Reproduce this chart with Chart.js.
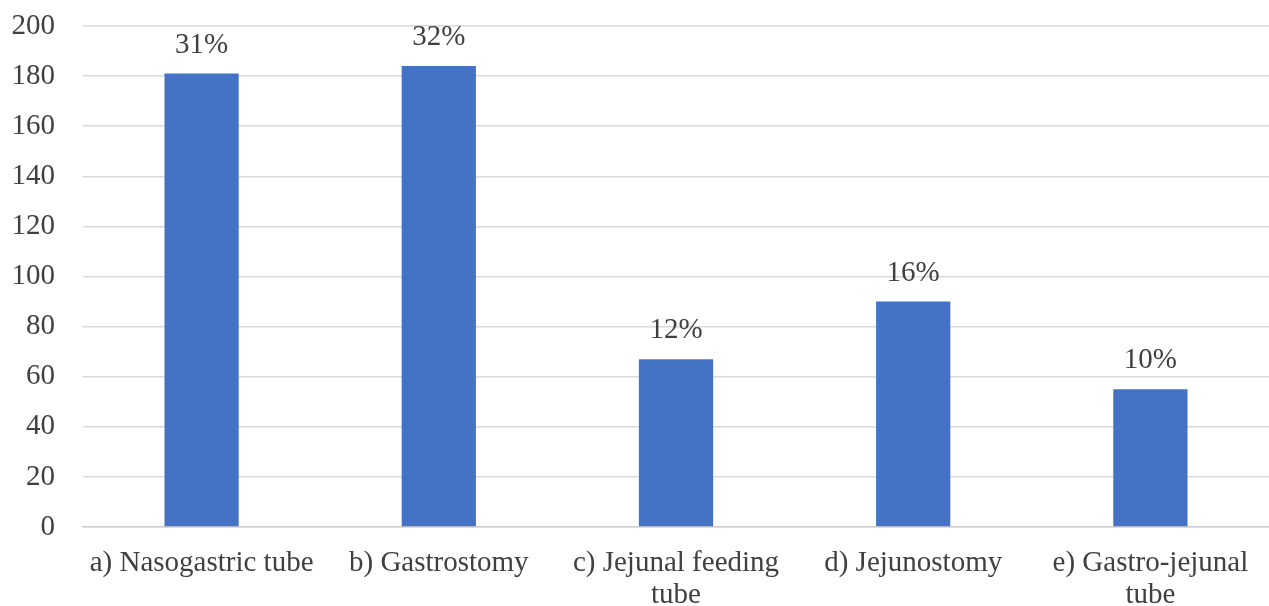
<!DOCTYPE html>
<html>
<head>
<meta charset="utf-8">
<script src="https://cdn.jsdelivr.net/npm/chart.js@4/dist/chart.umd.min.js"></script>
<style>
  html, body { margin: 0; padding: 0; background: #ffffff; overflow: hidden; }
  #wrap { width: 1269px; height: 606px; position: relative; }
</style>
</head>
<body>
<div id="wrap"><canvas id="chart"></canvas></div>
<script>
// Feeding route categories (wrapped onto two lines where long)
const categories = [
  "a) Nasogastric tube",
  "b) Gastrostomy",
  ["c) Jejunal feeding", "tube"],
  "d) Jejunostomy",
  ["e) Gastro-jejunal", "tube"]
];
// Number of patients per route
const counts = [181, 184, 67, 90, 55];
// Y axis range
const yMin = 0, yMax = 200, yStep = 20;

const total = counts.reduce((a, b) => a + b, 0);
const shares = counts.map(v => Math.round(v / total * 100) + "%");

const textColor = "#404040";
const fontFamily = "'Liberation Serif', 'Times New Roman', serif";
const fontSize = 29;

// Percentage label above each bar
const shareLabels = {
  id: "shareLabels",
  afterDatasetsDraw(chart) {
    const ctx = chart.ctx;
    const meta = chart.getDatasetMeta(0);
    ctx.save();
    ctx.font = fontSize + "px " + fontFamily;
    ctx.fillStyle = textColor;
    ctx.textAlign = "center";
    ctx.textBaseline = "alphabetic";
    meta.data.forEach((bar, i) => {
      ctx.fillText(shares[i], bar.x, bar.y - 21);
    });
    ctx.restore();
  }
};

new Chart(document.getElementById("chart"), {
  type: "bar",
  data: {
    labels: categories,
    datasets: [{
      data: counts,
      backgroundColor: "#4472C4",
      borderWidth: 0,
      barPercentage: 0.313,
      categoryPercentage: 1.0
    }]
  },
  options: {
    responsive: true,
    maintainAspectRatio: false,
    animation: false,
    layout: { padding: { left: 0, right: -12, top: 0, bottom: 0 } },
    plugins: {
      legend: { display: false },
      tooltip: { enabled: false }
    },
    scales: {
      x: {
        grid: { display: false, drawTicks: false },
        border: { display: true, color: "#d0d0d0", width: 1.5 },
        ticks: {
          color: textColor,
          font: { family: fontFamily, size: fontSize, lineHeight: 1.12 },
          padding: 20,
          maxRotation: 0,
          autoSkip: false
        },
        afterFit(scale) { scale.height = 79; }
      },
      y: {
        min: yMin,
        max: yMax,
        grid: { color: "#d9d9d9", lineWidth: 1.5, drawTicks: false },
        border: { display: false },
        ticks: {
          stepSize: yStep,
          color: textColor,
          font: { family: fontFamily, size: fontSize },
          padding: 28
        },
        afterFit(scale) {
          scale.width = 83;
          scale.paddingTop = 26;
        }
      }
    }
  },
  plugins: [shareLabels]
});
</script>
</body>
</html>
